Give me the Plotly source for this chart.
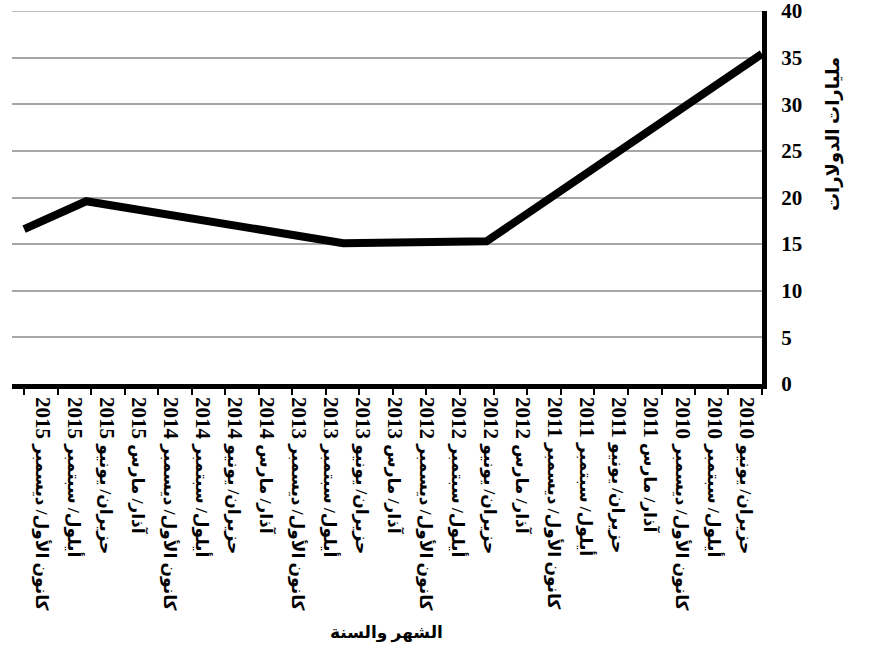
import plotly.graph_objects as go
import pandas as pd

# Quarter labels, newest on the left (axis runs right-to-left)
quarter_labels = [
    "حزيران/ يونيو 2010",
    "أيلول/ سبتمبر 2010",
    "كانون الأول/ ديسمبر 2010",
    "آذار/ مارس 2011",
    "حزيران/ يونيو 2011",
    "أيلول/ سبتمبر 2011",
    "كانون الأول/ ديسمبر 2011",
    "آذار/ مارس 2012",
    "حزيران/ يونيو 2012",
    "أيلول/ سبتمبر 2012",
    "كانون الأول/ ديسمبر 2012",
    "آذار/ مارس 2013",
    "حزيران/ يونيو 2013",
    "أيلول/ سبتمبر 2013",
    "كانون الأول/ ديسمبر 2013",
    "آذار/ مارس 2014",
    "حزيران/ يونيو 2014",
    "أيلول/ سبتمبر 2014",
    "كانون الأول/ ديسمبر 2014",
    "آذار/ مارس 2015",
    "حزيران/ يونيو 2015",
    "أيلول/ سبتمبر 2015",
    "كانون الأول/ ديسمبر 2015",
]

# Series observations (billions of dollars)
obs_dates = ["2010-06-01", "2012-06-20", "2013-07-15", "2015-06-15", "2015-12-01"]
obs_values = [35.4, 15.3, 15.1, 19.6, 16.6]

y_ticks = [0, 5, 10, 15, 20, 25, 30, 35, 40]

quarter_ticks = pd.date_range("2010-06-01", "2015-12-01", freq="3MS")

FONT = "Liberation Serif, DejaVu Serif, DejaVu Sans, serif"

W, H = 873, 658
L, R, T, B = 12, 111, 11, 274
pw, ph = W - L - R, H - T - B


def px_to_paper(px, py):
    return (px - L) / pw, (H - B - py) / ph


def fmt_label(label):
    # month names in a compact size, the year larger
    words, year = label.rsplit(" ", 1)
    return f'<b><span style="font-size:17px">{words}</span> {year}</b>'


fig = go.Figure()
fig.add_trace(go.Scatter(
    x=obs_dates, y=obs_values, mode="lines",
    line=dict(color="black", width=8),
    xaxis="x", yaxis="y", showlegend=False, hoverinfo="skip",
))
# carrier trace for the label axis
fig.add_trace(go.Scatter(
    x=list(range(len(quarter_labels))), y=[None] * len(quarter_labels),
    mode="markers", xaxis="x2", yaxis="y", showlegend=False,
    hoverinfo="skip",
))

ytx, yty = px_to_paper(833, 134)
xtx, xty = px_to_paper(386, 633)

fig.update_layout(
    width=W, height=H,
    margin=dict(l=L, r=R, t=T, b=B),
    plot_bgcolor="white", paper_bgcolor="white",
    font=dict(family=FONT, color="black"),
    xaxis=dict(
        type="date", automargin=False,
        range=["2016-01-03", "2010-06-01"],
        tickvals=quarter_ticks, showticklabels=False,
        ticks="outside", ticklen=6, tickwidth=2, tickcolor="black",
        showline=True, linecolor="black", linewidth=5,
        showgrid=False, zeroline=False,
    ),
    xaxis2=dict(
        overlaying="x", anchor="y", side="bottom", automargin=False,
        range=[22.97, -0.47],
        tickvals=list(range(len(quarter_labels))),
        ticktext=[fmt_label(t) for t in quarter_labels],
        tickangle=90, ticks="", showline=False,
        showgrid=False, zeroline=False,
        ticklabelstandoff=12, ticklabeloverflow="allow",
        tickfont=dict(size=21, family=FONT, color="black"),
    ),
    yaxis=dict(
        side="right", range=[0, 40], automargin=False,
        tickvals=y_ticks, ticktext=[f"<b>{v}</b>" for v in y_ticks],
        showgrid=True, gridcolor="#a6a6a6", gridwidth=1.5,
        showline=True, linecolor="black", linewidth=5,
        ticks="", zeroline=False, ticklabelstandoff=10,
        ticklabeloverflow="allow",
        tickfont=dict(size=21, family=FONT, color="black"),
    ),
    shapes=[
        # top grid line at the 40 mark
        dict(type="line", xref="paper", yref="y", x0=0, x1=1,
             y0=y_ticks[-1], y1=y_ticks[-1], layer="below",
             line=dict(color="#a6a6a6", width=1.5)),
    ],
    annotations=[
        dict(text="<b>مليارات الدولارات</b>", x=ytx, y=yty,
             xref="paper", yref="paper", xanchor="center", yanchor="middle",
             showarrow=False, textangle=-90,
             font=dict(size=18, family=FONT)),
        dict(text="<b>الشهر والسنة</b>", x=xtx, y=xty,
             xref="paper", yref="paper", xanchor="center", yanchor="middle",
             showarrow=False, font=dict(size=17, family=FONT)),
    ],
)

fig.write_html("out.html")
